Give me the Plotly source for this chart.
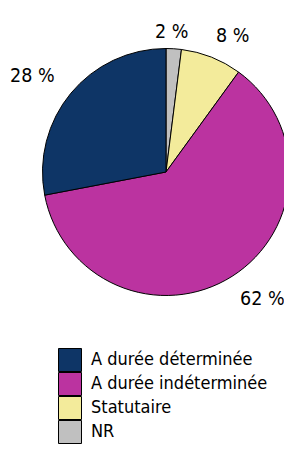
import plotly.graph_objects as go

# ---- data ----
categories = ["NR", "Statutaire", "A durée indéterminée", "A durée déterminée"]
values = [2, 8, 62, 28]
colors = ["#C0C0C0", "#F3EB9B", "#BB33A0", "#0E3566"]
legend_order = ["A durée déterminée", "A durée indéterminée", "Statutaire", "NR"]

W, H = 292, 469
FONT = "DejaVu Sans Condensed, DejaVu Sans, sans-serif"
FS_LABEL = 19.5
FS_LEGEND = 18

def px_x(p):
    return p / W

def px_y(p):
    return 1 - p / H

fig = go.Figure()

# pie
cx, cy, R = 166, 172, 123.5
fig.add_trace(go.Pie(
    labels=categories,
    values=values,
    sort=False,
    direction="clockwise",
    rotation=0,
    marker=dict(colors=colors, line=dict(color="#000000", width=1)),
    textinfo="none",
    hoverinfo="label+percent",
    showlegend=False,
    domain=dict(x=[px_x(cx - R), px_x(cx + R)], y=[px_y(cy + R), px_y(cy - R)]),
))

# percentage labels
label_pos = {"NR": (171, 31), "Statutaire": (232, 35),
             "A durée indéterminée": (262, 298), "A durée déterminée": (32, 75)}
total = sum(values)
for cat, v in zip(categories, values):
    lx, ly = label_pos[cat]
    fig.add_annotation(x=px_x(lx), y=px_y(ly), xref="paper", yref="paper",
                       text=f"{round(100 * v / total)} %", showarrow=False,
                       xanchor="center", yanchor="middle",
                       font=dict(family=FONT, size=FS_LABEL, color="#000000"))

# custom legend built from a scatter trace
col_map = dict(zip(categories, colors))
rows = list(range(len(legend_order)))
LEG_X0 = 70
fig.add_trace(go.Scatter(
    x=[0] * len(legend_order), y=rows, mode="markers",
    marker=dict(symbol="square", size=23, color=[col_map[c] for c in legend_order],
                line=dict(color="#000000", width=1)),
    cliponaxis=False,
    showlegend=False, hoverinfo="skip", xaxis="x", yaxis="y",
))
fig.add_trace(go.Scatter(
    x=[21] * len(legend_order), y=rows, mode="text", text=legend_order,
    textposition="middle right",
    textfont=dict(family=FONT, size=FS_LEGEND, color="#000000"),
    cliponaxis=False,
    showlegend=False, hoverinfo="skip", xaxis="x", yaxis="y",
))

fig.update_layout(
    width=W, height=H, autosize=False,
    margin=dict(l=0, r=0, t=0, b=0),
    paper_bgcolor="white", plot_bgcolor="rgba(0,0,0,0)",
    xaxis=dict(domain=[px_x(LEG_X0), 1], range=[0, W - LEG_X0], visible=False, fixedrange=True),
    yaxis=dict(domain=[px_y(444), px_y(348)], range=[3.5, -0.5], visible=False, fixedrange=True),
)

post = ("document.documentElement.style.margin='0';document.documentElement.style.overflow='hidden';"
        "document.body.style.margin='0';document.body.style.overflow='hidden';")
fig.write_html("out.html", config={"displayModeBar": False}, post_script=post)
